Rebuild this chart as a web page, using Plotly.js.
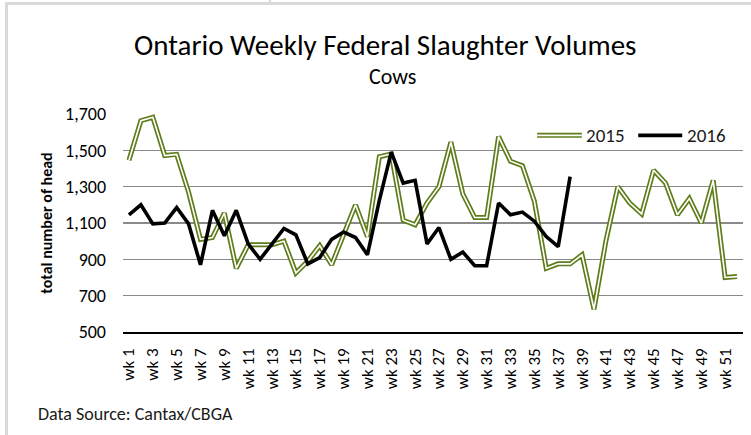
<!DOCTYPE html>
<html>
<head>
<meta charset="utf-8">
<script src="https://cdn.plot.ly/plotly-3.0.1.min.js"></script>
<style>
  html, body { margin: 0; padding: 0; background: #ffffff; }
  #wrap { position: relative; width: 751px; height: 435px; overflow: hidden; }
  #chart { position: absolute; left: 0; top: 0; width: 751px; height: 435px; }
  #frame { position: absolute; left: 5px; top: 2px; width: 800px; height: 500px;
           border-left: 3px solid #d9d9d9; border-top: 3px solid #d9d9d9; pointer-events: none; }
  #tick { position: absolute; left: 269px; top: 0px; width: 2px; height: 4px; background: #d9d9d9; }
</style>
</head>
<body>
<div id="wrap">
  <div id="chart"></div>
  <div id="frame"></div>
  <div id="tick"></div>
</div>
<script>
// Categories: weeks 1..52
const weeks = ["wk 1","wk 2","wk 3","wk 4","wk 5","wk 6","wk 7","wk 8","wk 9","wk 10",
  "wk 11","wk 12","wk 13","wk 14","wk 15","wk 16","wk 17","wk 18","wk 19","wk 20",
  "wk 21","wk 22","wk 23","wk 24","wk 25","wk 26","wk 27","wk 28","wk 29","wk 30",
  "wk 31","wk 32","wk 33","wk 34","wk 35","wk 36","wk 37","wk 38","wk 39","wk 40",
  "wk 41","wk 42","wk 43","wk 44","wk 45","wk 46","wk 47","wk 48","wk 49","wk 50",
  "wk 51","wk 52"];

// 2015 weekly volumes (head)
const vol2015 = [1445,1663,1682,1471,1478,1270,1010,1020,1155,850,
  980,980,980,1000,825,890,975,870,1040,1200,
  1025,1465,1480,1115,1090,1210,1300,1545,1260,1130,
  1130,1575,1440,1415,1220,850,875,875,925,625,
  1000,1300,1210,1150,1390,1320,1145,1235,1100,1335,
  800,805];

// 2016 weekly volumes (head), weeks 1..38
const weeks2016 = weeks.slice(0, 38);
const vol2016 = [1145,1200,1095,1100,1185,1095,870,1170,1030,1170,
  985,900,985,1070,1035,875,910,1010,1050,1020,
  925,1225,1490,1320,1335,985,1075,900,940,865,
  865,1210,1145,1160,1110,1025,970,1355];

// Axis tick values/labels
const yTicks = [500,700,900,1100,1300,1500,1700];
const yTickText = ["500","700","900","1,100","1,300","1,500","1,700"];
const xTickWeeks = weeks.filter((w, i) => i % 2 === 0);

const green = "#5e7d1a";
const FONT = "Carlito, 'Liberation Sans Narrow', 'Liberation Sans', Arial, sans-serif";

const traces = [
  { x: weeks, y: vol2015, type: "scatter", mode: "lines", name: "2015",
    line: { color: green, width: 5 }, showlegend: false, hoverinfo: "skip" },
  { x: weeks, y: vol2015, type: "scatter", mode: "lines", name: "2015",
    line: { color: "#ffffff", width: 1.6 }, showlegend: false },
  { x: weeks2016, y: vol2016, type: "scatter", mode: "lines", name: "2016",
    line: { color: "#000000", width: 3.6 }, showlegend: false }
];

// Manual legend (double line for 2015), in paper coordinates
const legendY = 0.902;
const shapes = [
  { type: "line", xref: "paper", yref: "paper", x0: 0.668, x1: 0.740, y0: legendY, y1: legendY,
    line: { color: green, width: 5 } },
  { type: "line", xref: "paper", yref: "paper", x0: 0.668, x1: 0.740, y0: legendY, y1: legendY,
    line: { color: "#ffffff", width: 1.6 } },
  { type: "line", xref: "paper", yref: "paper", x0: 0.831, x1: 0.902, y0: legendY, y1: legendY,
    line: { color: "#000000", width: 3.6 } }
];

const annotations = [
  { text: "2015", xref: "paper", yref: "paper", x: 0.743, y: legendY, xanchor: "left", yanchor: "middle",
    showarrow: false, font: { family: FONT, size: 19, color: "#1a1a1a" } },
  { text: "2016", xref: "paper", yref: "paper", x: 0.906, y: legendY, xanchor: "left", yanchor: "middle",
    showarrow: false, font: { family: FONT, size: 19, color: "#1a1a1a" } },
  { text: "Cows", xref: "paper", yref: "paper", x: 0.435, y: 1.17, xanchor: "center", yanchor: "middle",
    showarrow: false, font: { family: FONT, size: 22, color: "#000000" } },
  { text: "Data Source: Cantax/CBGA", xref: "paper", yref: "paper", x: -0.140, y: -0.375,
    xanchor: "left", yanchor: "middle", showarrow: false,
    font: { family: FONT, size: 18, color: "#1a1a1a" } }
];

const layout = {
  width: 751, height: 435,
  margin: { l: 123, r: 8, t: 114, b: 103, pad: 0 },
  paper_bgcolor: "#ffffff", plot_bgcolor: "#ffffff",
  showlegend: false,
  title: { text: "Ontario Weekly Federal Slaughter Volumes", x: 0.513, xanchor: "center",
           y: 0.898, yanchor: "middle",
           font: { family: FONT, size: 29, color: "#000000" } },
  xaxis: {
    type: "category", categoryorder: "array", categoryarray: weeks,
    range: [-0.5, 51.5],
    tickmode: "array", tickvals: xTickWeeks, ticktext: xTickWeeks,
    tickangle: -90, ticks: "", ticklabelstandoff: 8,
    tickfont: { family: FONT, size: 17, color: "#000000" },
    showgrid: false, showline: true, linecolor: "#000000", linewidth: 1.5, zeroline: false
  },
  yaxis: {
    range: [500, 1700], tickmode: "array", tickvals: yTicks, ticktext: yTickText,
    ticks: "", ticklabelstandoff: 16,
    tickfont: { family: FONT, size: 18, color: "#000000" },
    showgrid: true, gridcolor: "#8a8a8a", gridwidth: 1.3, zeroline: false, showline: false,
    title: { text: "<b>total number of head</b>", standoff: 8,
             font: { family: FONT, size: 16, color: "#000000" } }
  },
  shapes: shapes,
  annotations: annotations
};

Plotly.newPlot("chart", traces, layout, { staticPlot: true, displayModeBar: false });
</script>
</body>
</html>
